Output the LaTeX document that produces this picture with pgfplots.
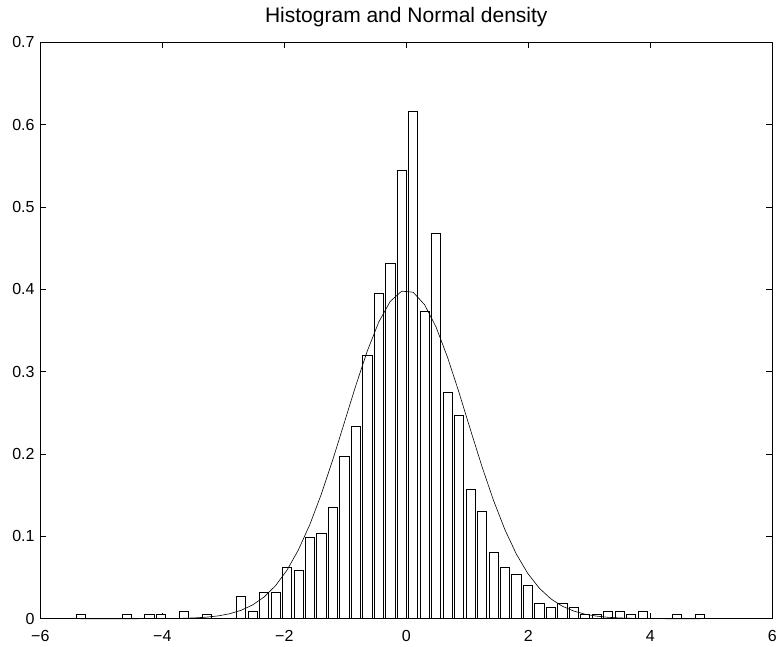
\documentclass[border=0pt]{standalone}
\usepackage{fontspec}
\setmainfont{Liberation Sans}
\usepackage{pgfplots}
\pgfplotsset{compat=1.18}
\begin{document}
\begin{tikzpicture}[x=1pt,y=1pt]
\useasboundingbox (-40.3,-27.3) rectangle (736.7,618.7);
\begin{axis}[
  at={(0,0)}, anchor=south west,
  width=732pt, height=576.4pt, scale only axis,
  xmin=-6, xmax=6, ymin=0, ymax=0.7,
  xtick={-6,-4,-2,0,2,4,6},
  xticklabels={−6,−4,−2,0,2,4,6},
  ytick={0,0.1,0.2,0.3,0.4,0.5,0.6,0.7},
  yticklabels={0,0.1,0.2,0.3,0.4,0.5,0.6,0.7},
  tick align=inside, major tick length=6pt,
  tick style={black, line width=0.7pt},
  axis line style={black, line width=0.8pt},
  ticklabel style={font=\fontsize{16}{18}\selectfont, inner sep=0pt},
  xticklabel style={anchor=north, yshift=-11.3pt},
  yticklabel style={anchor=east, xshift=-5.6pt},
  title={Histogram and Normal density},
  title style={font=\fontsize{21}{24}\selectfont, at={(0.5,1)}, anchor=base, yshift=14pt, inner sep=0pt},
  clip=false,
]
\addplot[ybar, bar width=0.151, bar shift=0pt, fill=white, draw=black, line width=0.6pt]
coordinates {
(-5.340,0.0050) (-4.588,0.0050) (-4.212,0.0050) (-4.024,0.0050)
(-3.648,0.0093) (-3.272,0.0050) (-2.708,0.0274) (-2.520,0.0093)
(-2.332,0.0315) (-2.144,0.0315) (-1.956,0.0627) (-1.768,0.0585)
(-1.580,0.0992) (-1.392,0.1035) (-1.204,0.1348) (-1.016,0.1978)
(-0.828,0.2338) (-0.640,0.3195) (-0.452,0.3955) (-0.264,0.4318)
(-0.076,0.5440) (0.112,0.6160) (0.300,0.3730) (0.488,0.4675)
(0.676,0.2745) (0.864,0.2475) (1.052,0.1574) (1.240,0.1306)
(1.428,0.0812) (1.616,0.0630) (1.804,0.0543) (1.992,0.0409)
(2.180,0.0184) (2.368,0.0137) (2.556,0.0182) (2.744,0.0137)
(2.932,0.0049) (3.120,0.0049) (3.308,0.0093) (3.496,0.0093)
(3.684,0.0049) (3.872,0.0093) (4.436,0.0049) (4.812,0.0049)
};
\addplot[black, line width=0.6pt, mark=none] coordinates {
(-5.340,0.0000) (-5.152,0.0000) (-4.964,0.0000) (-4.776,0.0000)
(-4.588,0.0000) (-4.400,0.0000) (-4.212,0.0001) (-4.024,0.0001)
(-3.836,0.0003) (-3.648,0.0005) (-3.460,0.0010) (-3.272,0.0019)
(-3.084,0.0034) (-2.896,0.0060) (-2.708,0.0102) (-2.520,0.0167)
(-2.332,0.0263) (-2.144,0.0401) (-1.956,0.0589) (-1.768,0.0837)
(-1.580,0.1146) (-1.392,0.1515) (-1.204,0.1933) (-1.016,0.2381)
(-0.828,0.2831) (-0.640,0.3250) (-0.452,0.3602) (-0.264,0.3853)
(-0.076,0.3978) (0.112,0.3965) (0.300,0.3813) (0.488,0.3542)
(0.676,0.3175) (0.864,0.2748) (1.052,0.2294) (1.240,0.1849)
(1.428,0.1440) (1.616,0.1082) (1.804,0.0785) (1.992,0.0549)
(2.180,0.0371) (2.368,0.0242) (2.556,0.0152) (2.744,0.0093)
(2.932,0.0054) (3.120,0.0031) (3.308,0.0017) (3.496,0.0009)
(3.684,0.0005) (3.872,0.0002) (4.060,0.0001) (4.248,0.0000)
(4.436,0.0000) (4.624,0.0000) (4.812,0.0000)
};
\end{axis}
\end{tikzpicture}
\end{document}
